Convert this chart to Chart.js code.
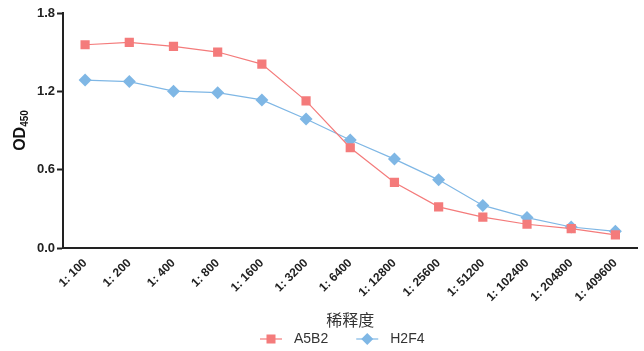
<!DOCTYPE html>
<html>
<head>
<meta charset="utf-8">
<script src="https://cdn.jsdelivr.net/npm/chart.js@4.4.0/dist/chart.umd.min.js"></script>
<style>
  html, body { margin: 0; padding: 0; background: #fff; }
  #wrap { width: 644px; height: 351px; position: relative; }
</style>
</head>
<body>
<div id="wrap"><canvas id="chart" width="644" height="351"></canvas></div>
<script>
// dilution categories
const dilutions = ['1: 100', '1: 200', '1: 400', '1: 800', '1: 1600', '1: 3200', '1: 6400',
  '1: 12800', '1: 25600', '1: 51200', '1: 102400', '1: 204800', '1: 409600'];

// OD450 readings
const a5b2 = [1.557, 1.575, 1.544, 1.501, 1.409, 1.127, 0.768, 0.502, 0.315, 0.236, 0.182, 0.149, 0.100];
const h2f4 = [1.286, 1.275, 1.201, 1.190, 1.134, 0.988, 0.827, 0.681, 0.522, 0.326, 0.233, 0.161, 0.128];

const yTicks = [0, 0.6, 1.2, 1.8];

const RED = '#F47B7B';
const BLUE = '#7FB7E5';
const FONT = '"Liberation Sans", Arial, sans-serif';

// y title with subscript
const yTitle = {
  id: 'yTitle',
  afterDraw(chart) {
    const ctx = chart.ctx;
    const y = (chart.chartArea.top + chart.chartArea.bottom) / 2;
    ctx.save();
    ctx.translate(21, y);
    ctx.rotate(-Math.PI / 2);
    ctx.fillStyle = '#111';
    ctx.textBaseline = 'middle';
    ctx.textAlign = 'left';
    ctx.font = 'bold 16px ' + FONT;
    const w1 = ctx.measureText('OD').width;
    ctx.font = 'bold 10px ' + FONT;
    const w2 = ctx.measureText('450').width;
    const x0 = -(w1 + w2) / 2;
    ctx.font = 'bold 16px ' + FONT;
    ctx.fillText('OD', x0, 0);
    ctx.font = 'bold 10px ' + FONT;
    ctx.fillText('450', x0 + w1, 4);
    ctx.restore();
  }
};

// legend: short line with the marker on it, then the name
const lineLegend = {
  id: 'lineLegend',
  afterDraw(chart) {
    const ctx = chart.ctx;
    const cy = 339;
    let x = 260;
    ctx.save();
    ctx.font = '14px ' + FONT;
    ctx.textBaseline = 'middle';
    ctx.textAlign = 'left';
    chart.data.datasets.forEach((ds, i) => {
      ctx.strokeStyle = ds.borderColor;
      ctx.fillStyle = ds.backgroundColor;
      ctx.lineWidth = 1.2;
      ctx.beginPath(); ctx.moveTo(x, cy); ctx.lineTo(x + 22, cy); ctx.stroke();
      const mx = x + 11;
      if (ds.pointStyle === 'rect') {
        ctx.fillRect(mx - 4.5, cy - 4.5, 9, 9);
      } else {
        ctx.beginPath();
        ctx.moveTo(mx, cy - 6); ctx.lineTo(mx + 6, cy); ctx.lineTo(mx, cy + 6); ctx.lineTo(mx - 6, cy);
        ctx.closePath(); ctx.fill();
      }
      ctx.fillStyle = '#333';
      ctx.fillText(ds.label, x + 34, cy);
      x += 34 + ctx.measureText(ds.label).width + 28;
    });
    ctx.restore();
  }
};

new Chart(document.getElementById('chart'), {
  type: 'line',
  data: {
    labels: dilutions,
    datasets: [
      {
        label: 'A5B2',
        data: a5b2,
        borderColor: RED,
        backgroundColor: RED,
        borderWidth: 1.2,
        pointStyle: 'rect',
        pointRadius: 6.5,
        pointBorderWidth: 0,
        tension: 0
      },
      {
        label: 'H2F4',
        data: h2f4,
        borderColor: BLUE,
        backgroundColor: BLUE,
        borderWidth: 1.2,
        pointStyle: 'rectRot',
        pointRadius: 6.5,
        pointBorderWidth: 0,
        tension: 0
      }
    ]
  },
  options: {
    responsive: false,
    animation: false,
    layout: { padding: { top: 13, right: 6, left: 0, bottom: 21 } },
    plugins: {
      tooltip: { enabled: false },
      legend: { display: false }
    },
    scales: {
      x: {
        offset: true,
        grid: { display: false, drawOnChartArea: false, tickLength: 6, tickColor: '#222', tickWidth: 2, offset: false },
        border: { color: '#222', width: 2 },
        ticks: {
          minRotation: 45,
          maxRotation: 45,
          autoSkip: false,
          color: '#222',
          padding: 2,
          font: { family: FONT, size: 12, weight: 'bold' }
        },
        title: {
          display: true,
          text: '稀释度',
          color: '#333',
          padding: { top: 0, bottom: 0 },
          font: { family: '"Noto Sans CJK SC", sans-serif', size: 16 }
        },
        afterFit(scale) { scale.height = 82; }
      },
      y: {
        min: 0,
        max: 1.8,
        afterBuildTicks(scale) { scale.ticks = yTicks.map(v => ({ value: v })); },
        grid: { display: true, drawOnChartArea: false, tickLength: 6, tickColor: '#222', tickWidth: 2 },
        border: { color: '#222', width: 2 },
        ticks: {
          color: '#222',
          padding: 2,
          callback: v => v.toFixed(1),
          font: { family: FONT, size: 13, weight: 'bold' }
        },
        afterFit(scale) { scale.width = 63; }
      }
    }
  },
  plugins: [yTitle, lineLegend]
});
</script>
</body>
</html>
